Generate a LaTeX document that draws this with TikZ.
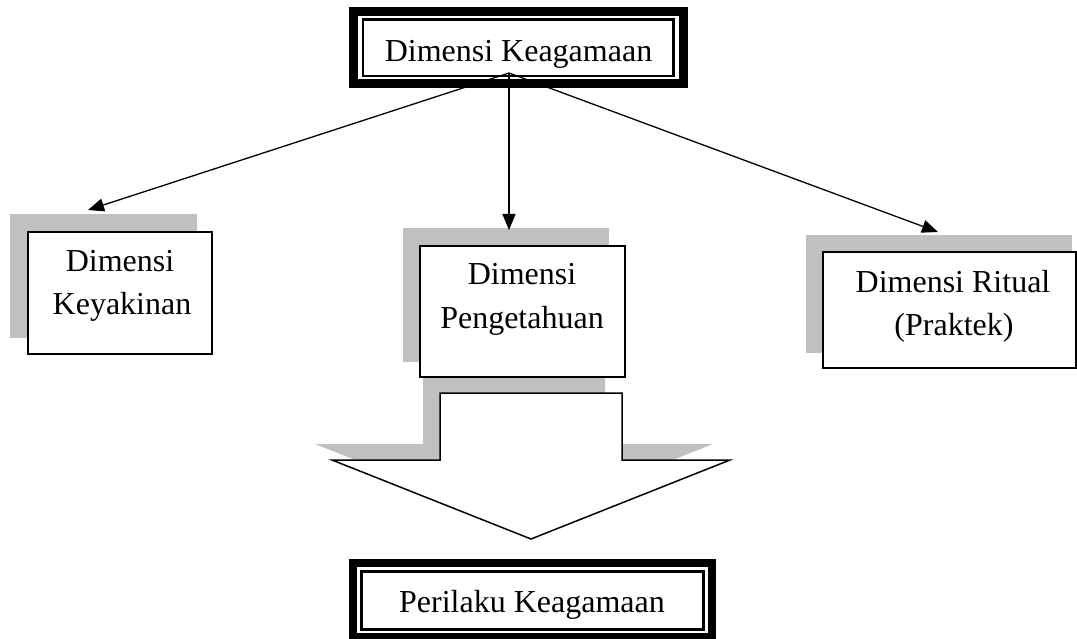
\documentclass[tikz,border=0pt]{standalone}
\usepackage{fontspec}
\setmainfont{Liberation Serif}
\usetikzlibrary{arrows.meta}
\definecolor{shadowgray}{RGB}{192,192,192}
\begin{document}
\begin{tikzpicture}[x=1pt,y=-1pt,
  lbl/.style={font=\fontsize{32}{38}\selectfont, inner sep=0pt, anchor=base},
  shadowbox/.style={fill=shadowgray, draw=none, inner sep=0pt, outer sep=0pt, anchor=north west},
  dimbox/.style={draw, fill=white, line width=1.5pt, inner sep=0pt, outer sep=0pt, anchor=north west},
  framebox/.style={draw, fill=white, inner sep=0pt, outer sep=0pt},
  conn/.style={line width=1.3pt, -{Triangle[length=16pt,width=13pt]}},
  blockarrow/.style={draw, fill=white, line width=1.5pt, line join=miter}]
\useasboundingbox (0,0) rectangle (1077,639);

% shadows
\node[shadowbox, minimum width=187, minimum height=124] (shL) at (10,214) {};
\node[shadowbox, minimum width=206, minimum height=134] (shM) at (403,228) {};
\node[shadowbox, minimum width=266, minimum height=118] (shR) at (806,235) {};
\fill[shadowgray] (423,377) -- (605,377) -- (605,444) -- (713,444) -- (514,523) -- (315,444) -- (423,444) -- cycle;

% block arrow
\draw[blockarrow] (440,393) -- (622,393) -- (622,460) -- (730,460) -- (531,539) -- (332,460) -- (440,460) -- cycle;

% dimension boxes
\node[dimbox, minimum width=184, minimum height=122] (bL) at (28,232) {};
\node[dimbox, minimum width=205, minimum height=131] (bM) at (420,246) {};
\node[dimbox, minimum width=253, minimum height=116] (bR) at (823,252) {};

% top and bottom framed boxes
\node[framebox, line width=9.5pt, minimum width=330, minimum height=72] (top) at (518.5,47.5) {};
\draw[line width=2.5pt] ([shift={(9.5,8)}]top.north west) rectangle ([shift={(-10,-7.5)}]top.south east);
\node[framebox, line width=8pt, minimum width=359, minimum height=74] (bot) at (532.5,600) {};
\draw[line width=2.5pt] ([shift={(8.5,8.5)}]bot.north west) rectangle ([shift={(-8.5,-7.5)}]bot.south east);

% labels
\node[lbl] (tTop) at (518.5,62) {Dimensi Keagamaan};
\node[lbl] (tL1) at (120,272) {Dimensi};
\node[lbl] (tL2) at (122,315) {Keyakinan};
\node[lbl] (tM1) at (522,285) {Dimensi};
\node[lbl] (tM2) at (522,328) {Pengetahuan};
\node[lbl] (tR1) at (953,293) {Dimensi Ritual};
\node[lbl] (tR2) at (954,335) {(Praktek)};
\node[lbl] (tBot) at (532,612) {Perilaku Keagamaan};

% connectors
\coordinate (apex) at (509,73);
\coordinate (tipL) at (88,210);
\coordinate (tipM) at (509,230);
\coordinate (tipR) at (938,232);
\draw[conn] (apex) -- (tipL);
\draw[conn] (apex) -- (tipM);
\draw[conn] (apex) -- (tipR);
\end{tikzpicture}
\end{document}
